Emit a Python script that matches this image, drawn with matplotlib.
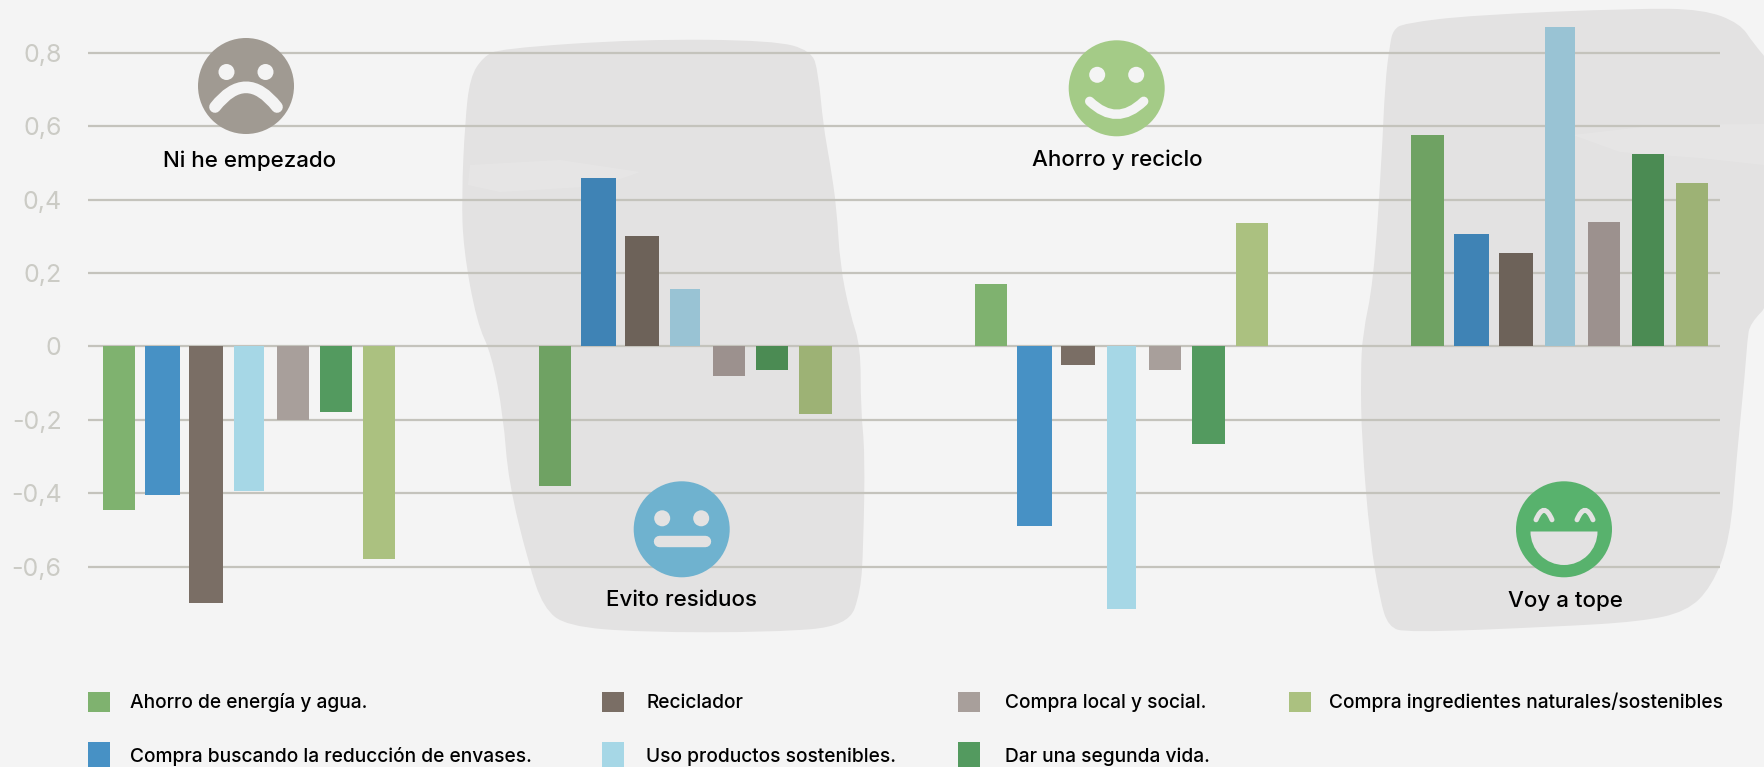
import numpy as np
import matplotlib
matplotlib.use('Agg')
import matplotlib.pyplot as plt
from matplotlib.patches import Circle, Polygon, Rectangle, PathPatch, Wedge
from matplotlib.path import Path

plt.rcParams['font.family'] = ['Inter', 'DejaVu Sans']

# data
series = ['Ahorro de energía y agua.', 'Compra buscando la reducción de envases.',
          'Reciclador', 'Uso productos sostenibles.', 'Compra local y social.',
          'Dar una segunda vida.', 'Compra ingredientes naturales/sostenibles']
groups = ['Ni he empezado', 'Evito residuos', 'Ahorro y reciclo', 'Voy a tope']
values = [
    [-0.445, -0.405, -0.70, -0.395, -0.20, -0.178, -0.58],
    [-0.38, 0.46, 0.30, 0.155, -0.08, -0.065, -0.185],
    [0.17, -0.49, -0.05, -0.715, -0.065, -0.265, 0.335],
    [0.575, 0.305, 0.255, 0.87, 0.34, 0.525, 0.445],
]
y_ticks = [-0.6, -0.4, -0.2, 0, 0.2, 0.4, 0.6, 0.8]
y_labels = ['-0,6', '-0,4', '-0,2', '0', '0,2', '0,4', '0,6', '0,8']

colors = ['#7fb26f', '#4791c5', '#7a6e65', '#a6d7e6', '#a89f9b', '#539a5f', '#abc180']
colors_dark = ['#6fa263', '#3f83b5', '#6d6259', '#99c3d4', '#9c918e', '#4b8b53', '#9db275']
widths = [0.74, 0.80, 0.78, 0.69, 0.74, 0.75, 0.74]
group_step = 10.05
bar_step = [1, 1, 1, 1.017]

BG = '#f4f4f4'
BLOB = '#e3e2e2'
GRID = '#c4c3bc'
TICK = '#cbcbc5'

fig = plt.figure(figsize=(17.64, 7.67), dpi=100, facecolor=BG)

# background layer in pixels, for the grey brush shapes
back = fig.add_axes([0, 0, 1, 1], zorder=0)
back.set_xlim(0, 1764)
back.set_ylim(767, 0)
back.axis('off')

blob2 = np.array([(180, 70), (600, 47), (1000, 50), (1115, 75), (1135, 130), (1150, 260), (1170, 350),
                  (1190, 460), (1200, 600), (1230, 720), (1262, 800), (1262, 950), (1275, 1060),
                  (1270, 1290), (1262, 1400), (1225, 1485), (1000, 1500), (600, 1500), (380, 1485),
                  (310, 1440), (265, 1330), (205, 1130), (190, 970), (155, 820), (110, 740), (70, 560),
                  (65, 430), (75, 250), (90, 140), (130, 90)], dtype=float)
blob2 = blob2 / [3, 2.45] + [440, 20]
blob4 = np.array([(160, 90), (190, 70), (400, 45), (890, 25), (1090, 28), (1200, 70), (1240, 130), (1300, 200),
                  (1300, 900), (1230, 970), (1222, 1020), (1215, 1120), (1190, 1370), (1170, 1620),
                  (1115, 1760), (1040, 1835), (900, 1865), (650, 1880), (200, 1898), (145, 1880),
                  (120, 1800), (90, 1620), (65, 1320), (62, 1120), (68, 1000), (100, 850), (125, 480),
                  (135, 250), (150, 130)], dtype=float) / 3 + [1340, 0]


def soft_path(pts):
    # quadratic curve through the edge midpoints, so the outline has no corners
    mids = (pts + np.roll(pts, -1, axis=0)) / 2
    verts = [mids[-1]]
    codes = [Path.MOVETO]
    for p, m in zip(pts, mids):
        verts += [p, m]
        codes += [Path.CURVE3, Path.CURVE3]
    return Path(verts, codes)


for b in [blob2, blob4]:
    back.add_patch(PathPatch(soft_path(b), fc=BLOB, ec='none'))

# lighter brush streaks
streaks = [
    [(470, 165), (560, 160), (640, 172), (600, 186), (500, 192), (468, 185)],
    [(1573, 135), (1660, 125), (1764, 124), (1764, 165), (1700, 158), (1620, 152)],
]
for st in streaks:
    back.add_patch(Polygon(st, closed=True, fc='#f0f0f0', ec='none', alpha=0.25))

# main chart
ax = fig.add_axes([88 / 1764, 152 / 767, 1632 / 1764, 600 / 767], zorder=1)
ax.patch.set_alpha(0)
ax.set_xlim(-0.714, 36.89)
ax.set_ylim(-0.732, 0.903)
for s in ax.spines.values():
    s.set_visible(False)
ax.set_xticks([])
ax.set_yticks(y_ticks)
ax.set_yticklabels(y_labels, fontsize=18, color=TICK)
ax.tick_params(axis='y', length=0, pad=19)
ax.grid(axis='y', color=GRID, linewidth=1.6)
ax.set_axisbelow(True)

for g, vals in enumerate(values):
    pal = colors_dark if g in (1, 3) else colors
    for i, v in enumerate(vals):
        ax.bar(g * group_step + i * bar_step[g], v, width=widths[i], color=pal[i], linewidth=0, zorder=3)

# top layer in pixels: faces, group names, legend
top = fig.add_axes([0, 0, 1, 1], zorder=2)
top.set_xlim(0, 1764)
top.set_ylim(767, 0)
top.axis('off')
top.patch.set_alpha(0)


def stroke(cx, cy, pts, color, lw):
    pts = [(cx + x, cy + y) for x, y in pts]
    codes = [Path.MOVETO] + [Path.CURVE3] * (len(pts) - 1)
    if len(pts) == 2:
        codes = [Path.MOVETO, Path.LINETO]
    top.add_patch(PathPatch(Path(pts, codes), fc='none', ec=color, lw=lw, capstyle='round'))


def eyes(cx, cy, dy, color):
    for dx in (-19.5, 19.5):
        top.add_patch(Circle((cx + dx, cy + dy), 8, fc=color, ec='none'))


# sad
top.add_patch(Circle((246, 86), 48, fc='#a09a92', ec='none'))
eyes(246, 86, -14, BG)
stroke(246, 86, [(-31, 21), (0, -18.4), (31, 21)], BG, 8.4)

# neutral
top.add_patch(Circle((681.7, 529.3), 48, fc='#6fb2cf', ec='none'))
eyes(681.7, 529.3, -11, BLOB)
stroke(681.7, 529.3, [(-23, 11.5), (23, 11.5)], BLOB, 8.2)

# smile
top.add_patch(Circle((1116.7, 88.3), 48, fc='#a4cb87', ec='none'))
eyes(1116.7, 88.3, -13.5, BG)
stroke(1116.7, 88.3, [(-27, 13), (0, 39), (27, 13)], BG, 6.8)

# big laugh
top.add_patch(Circle((1564, 529.3), 48, fc='#58b26d', ec='none'))
stroke(1564, 529.3, [(-28, -9.5), (-20, -28.5), (-12, -9.5)], BLOB, 3.6)
stroke(1564, 529.3, [(13, -9.5), (21, -28.5), (29, -9.5)], BLOB, 3.6)
top.add_patch(Wedge((1564, 531.5), 33.5, 0, 180, fc=BLOB, ec='none'))

label_pos = [(250, 161), (681, 600), (1117.7, 160), (1565.7, 601)]
for name, (x, y) in zip(groups, label_pos):
    top.text(x, y, name, ha='center', va='center', fontsize=16.1, color='black', fontweight='medium')

# legend
legend_pos = [(88, 130.5, 0), (88, 130.5, 1), (602, 646, 0), (602, 646, 1),
              (958, 1005, 0), (958, 1005, 1), (1289, 1329, 0)]
for i, (sx, tx, row) in enumerate(legend_pos):
    y0, h = (692, 20) if row == 0 else (742, 25)
    top.add_patch(Rectangle((sx, y0), 22, h, fc=colors[i], ec='none'))
    top.text(tx, 702.5 if row == 0 else 757, series[i], ha='left', va='center', fontsize=13.8,
             color='black', fontweight='medium')

fig.savefig('out.png', dpi=100, facecolor=BG)
